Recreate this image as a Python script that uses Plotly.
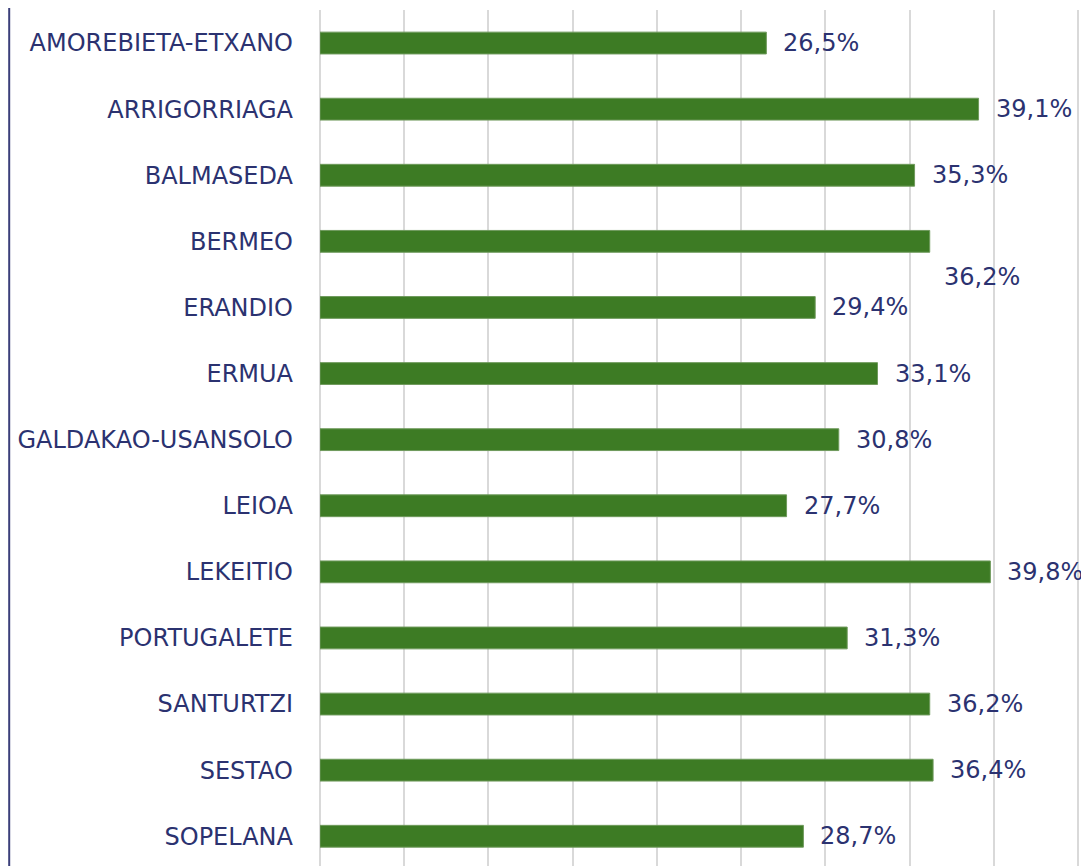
import plotly.graph_objects as go

categories = ["AMOREBIETA-ETXANO", "ARRIGORRIAGA", "BALMASEDA", "BERMEO", "ERANDIO",
              "ERMUA", "GALDAKAO-USANSOLO", "LEIOA", "LEKEITIO", "PORTUGALETE",
              "SANTURTZI", "SESTAO", "SOPELANA"]
values = [26.5, 39.1, 35.3, 36.2, 29.4, 33.1, 30.8, 27.7, 39.8, 31.3, 36.2, 36.4, 28.7]
labels = ["26,5%", "39,1%", "35,3%", "36,2%", "29,4%", "33,1%", "30,8%", "27,7%",
          "39,8%", "31,3%", "36,2%", "36,4%", "28,7%"]

BAR = "#3d7b24"
TXT = "#2b3270"
FONT = "DejaVu Sans"

# page body has an 8px margin, so the figure is sized/offset to compensate
W, H = 1081, 858
ML, MR, MT, MB = 312, 6, 2, 0

fig = go.Figure()
fig.add_trace(go.Bar(
    x=values, y=categories, orientation="h", width=0.33,
    marker=dict(color=BAR, line=dict(color="#6f9a5c", width=1)),
    hoverinfo="skip",
))

for i, (c, v, t) in enumerate(zip(categories, values, labels)):
    dx, dy = 15, 0
    if c == "BERMEO":
        dx, dy = 12, -36
    fig.add_annotation(x=v, y=c, text=t, showarrow=False, xanchor="left",
                       yanchor="middle", xshift=dx, yshift=dy,
                       font=dict(family=FONT, size=24, color=TXT))

plot_w = W - ML - MR
fig.add_shape(type="line", xref="paper", yref="paper",
              x0=(1.2 - ML) / plot_w, x1=(1.2 - ML) / plot_w, y0=-0.1, y1=1.1,
              line=dict(color="#3b3f7a", width=2))

fig.update_layout(
    width=W, height=H,
    margin=dict(l=ML, r=MR, t=MT, b=MB, pad=0, autoexpand=False),
    plot_bgcolor="white", paper_bgcolor="white",
    showlegend=False,
    xaxis=dict(range=[0, 45.3], dtick=5, tick0=0, showgrid=True, gridcolor="#d9d9d9",
               gridwidth=2, zeroline=True, zerolinecolor="#d9d9d9", zerolinewidth=2,
               showticklabels=False, showline=False, ticks="", automargin=False),
    yaxis=dict(type="category", categoryorder="array", categoryarray=categories,
               range=[12.45, -0.5], showgrid=False, zeroline=False, showline=False,
               ticks="", ticklabelstandoff=26, automargin=False,
               tickfont=dict(family=FONT, size=24, color=TXT)),
)

fig.write_html("out.html")
